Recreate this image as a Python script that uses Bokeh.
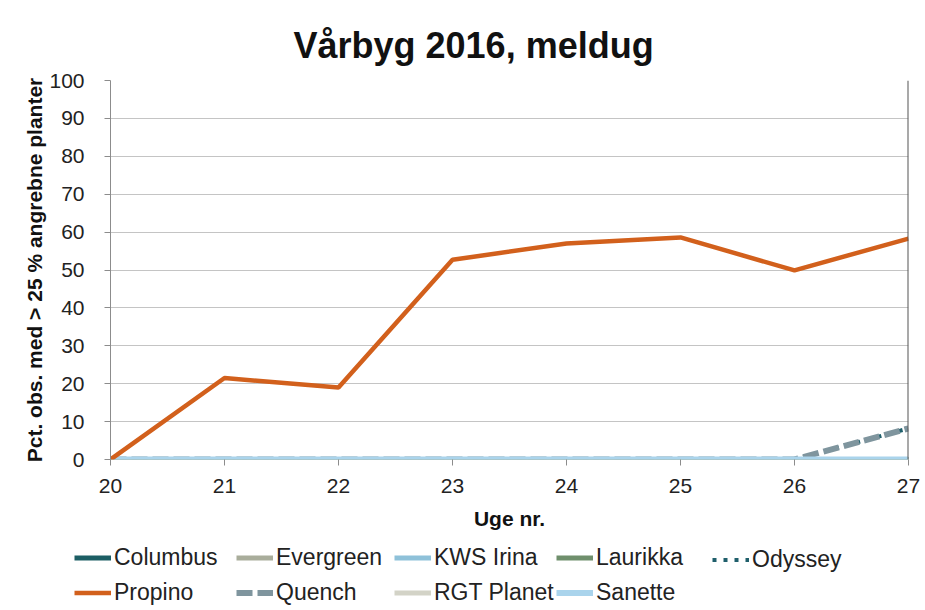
from bokeh.plotting import figure
from bokeh.layouts import column
from bokeh.models import Legend, LegendItem, Range1d, FixedTicker, Span
from bokeh.embed import file_html
from bokeh.resources import INLINE

weeks = [20, 21, 22, 23, 24, 25, 26, 27]
columbus = [0, 0, 0, 0, 0, 0, 0, 0]
evergreen = [0, 0, 0, 0, 0, 0, 0, 0]
kws_irina = [0, 0, 0, 0, 0, 0, 0, 0]
laurikka = [0, 0, 0, 0, 0, 0, 0, 0]
odyssey = [0, 0, 0, 0, 0, 0, 0, 8.2]
propino = [0, 21.5, 19, 52.7, 57, 58.6, 49.9, 58.3]
quench = [0, 0, 0, 0, 0, 0, 0, 8.2]
rgt_planet = [0, 0, 0, 0, 0, 0, 0, 0]
sanette = [0, 0, 0, 0, 0, 0, 0, 0]
y_ticks = list(range(0, 101, 10))

FONT = "Liberation Sans"

series = [
    ("Columbus", columbus, dict(line_color="#1c5e64", line_width=5)),
    ("Evergreen", evergreen, dict(line_color="#a9ad9b", line_width=5)),
    ("KWS Irina", kws_irina, dict(line_color="#8ec1d9", line_width=5)),
    ("Laurikka", laurikka, dict(line_color="#6f8f6c", line_width=5)),
    ("Odyssey", odyssey, dict(line_color="#1f5f6b", line_width=4, line_dash="4 7")),
    ("Propino", propino, dict(line_color="#d2601c", line_width=4.5)),
    ("Quench", quench, dict(line_color="#7f959e", line_width=6, line_dash="16 5")),
    ("RGT Planet", rgt_planet, dict(line_color="#d3d3c7", line_width=5)),
    ("Sanette", sanette, dict(line_color="#aad4ec", line_width=6)),
]

p = figure(width=925, height=540, output_backend="svg", toolbar_location=None,
           x_range=Range1d(20, 27), y_range=Range1d(0, 100),
           min_border_left=110, min_border_right=17, min_border_top=80, min_border_bottom=81,
           title="Vårbyg 2016, meldug")
p.title.text_font = FONT
p.title.text_font_size = "36px"
p.title.text_font_style = "bold"
p.title.text_color = "#111111"
p.title.align = "left"
p.title.offset = 183
p.title.standoff = 30

p.outline_line_color = None
p.background_fill_color = "white"
p.border_fill_color = "white"

p.xgrid.grid_line_color = None
p.ygrid.grid_line_color = "#c4c4c4"
p.ygrid.grid_line_width = 1
p.xaxis.ticker = FixedTicker(ticks=weeks)
p.yaxis.ticker = FixedTicker(ticks=y_ticks)
for ax in (p.xaxis, p.yaxis):
    ax.axis_line_color = "#8c8c8c"
    ax.major_tick_line_color = "#8c8c8c"
    ax.major_tick_out = 6
    ax.major_tick_in = 0
    ax.minor_tick_line_color = None
    ax.major_label_text_font = FONT
    ax.major_label_text_font_size = "21px"
    ax.major_label_text_color = "#222222"
    ax.axis_label_text_font = FONT
    ax.axis_label_text_font_style = "bold"
    ax.axis_label_text_font_size = "21px"
    ax.axis_label_text_color = "#111111"
p.xaxis.axis_line_color = None
p.xaxis.axis_label = "Uge nr."
p.yaxis.axis_label = "Pct. obs. med > 25 % angrebne planter"
p.xaxis.major_label_standoff = 13
p.yaxis.major_label_standoff = 20
p.xaxis.axis_label_standoff = 11
p.yaxis.axis_label_standoff = 0

p.add_layout(Span(location=27, dimension="height", line_color="#555555", line_width=2))

draw_order = ["Odyssey", "Quench", "Columbus", "Evergreen", "KWS Irina", "Laurikka",
              "RGT Planet", "Sanette", "Propino"]
for name in draw_order:
    vals, style = next((v, s) for n, v, s in series if n == name)
    p.line(weeks, vals, **style)

# legend strip below the chart (same series, drawn outside its visible range)
lf = figure(width=925, height=70, output_backend="svg", toolbar_location=None,
            x_range=Range1d(0, 1), y_range=Range1d(0, 1),
            x_axis_location=None, y_axis_location=None,
            min_border_left=0, min_border_right=0, min_border_top=0, min_border_bottom=0)
lf.frame_align = False
lf.outline_line_color = None
lf.grid.grid_line_color = None
lf.border_fill_color = "white"
leg_r = {}
for name, vals, style in series:
    leg_r[name] = lf.line(weeks, vals, **style)

cols = [("Columbus", "Propino"), ("Evergreen", "Quench"), ("KWS Irina", "RGT Planet"),
        ("Laurikka", "Sanette"), ("Odyssey", None)]
col_x = [74, 236, 394, 556, 712]
for (a, b), x in zip(cols, col_x):
    items = [LegendItem(label=a, renderers=[leg_r[a]])]
    if b:
        items.append(LegendItem(label=b, renderers=[leg_r[b]]))
    lg = Legend(items=items, location=(x, 4 + (0 if b else 33)), orientation="vertical",
                padding=0, margin=0, spacing=8, glyph_width=37, glyph_height=25,
                label_height=25, label_standoff=3,
                label_text_font=FONT, label_text_font_size="23px",
                label_text_color="#222222",
                border_line_color=None, background_fill_alpha=0)
    lf.add_layout(lg, "center")

open("out.html", "w").write(file_html(column(p, lf, spacing=0), INLINE))
